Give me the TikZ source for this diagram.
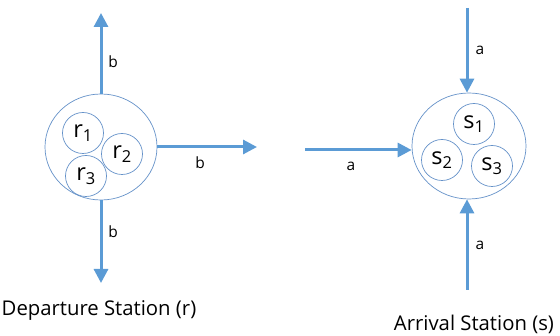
\documentclass[tikz,border=0pt]{standalone}
\usepackage{fontspec}
\setmainfont{Open Sans}
\usetikzlibrary{arrows.meta,shapes.geometric}
\definecolor{arrowblue}{RGB}{91,155,213}
\definecolor{ringblue}{RGB}{100,145,200}
\begin{document}
\begin{tikzpicture}[x=1pt,y=-1pt,
  bigring/.style={draw=ringblue,line width=0.7pt,ellipse,minimum height=106pt,inner sep=0pt},
  smallring/.style={draw=ringblue,line width=0.7pt,circle,minimum size=41pt,inner sep=0pt,font=\fontsize{23.5}{23.5}\selectfont},
  flow/.style={draw=arrowblue,line width=3pt,-{Triangle[length=14pt,width=14pt]}},
  lbl/.style={font=\fontsize{15.5}{15.5}\selectfont},
  title/.style={font=\fontsize{20.3}{20.3}\selectfont}]
\useasboundingbox (0,0) rectangle (560,336);
\node[bigring,minimum width=112pt] (dep) at (101,147) {};
\node[smallring] (r1) at (83,133) {r\textsubscript{1}};
\node[smallring] (r2) at (122,154) {r\textsubscript{2}};
\node[smallring] (r3) at (86,176) {r\textsubscript{3}};
\node[bigring,minimum width=114pt] (arr) at (469,146) {};
\node[smallring] (s1) at (474,124) {s\textsubscript{1}};
\node[smallring] (s2) at (442,160) {s\textsubscript{2}};
\node[smallring] (s3) at (492,166) {s\textsubscript{3}};
\coordinate (depup) at (101,13);
\coordinate (depright) at (257,147);
\coordinate (depdown) at (101,283);
\coordinate (arrtop) at (467,8);
\coordinate (arrleft) at (305,150);
\coordinate (arrbottom) at (467,290);
\draw[flow] (dep.north) -- (depup);
\draw[flow] (dep.east) -- (depright);
\draw[flow] (dep.south) -- (depdown);
\draw[flow] (arrtop) -- (arr.north -| arrtop);
\draw[flow] (arrleft) -- (arrleft -| arr.west);
\draw[flow] (arrbottom) -- (arr.south -| arrbottom);
\node[lbl] (lb1) at (113,62) {b};
\node[lbl] (lb2) at (200,163) {b};
\node[lbl] (lb3) at (113,232) {b};
\node[lbl] (la1) at (480,50) {a};
\node[lbl] (la2) at (351,166) {a};
\node[lbl] (la3) at (480,245) {a};
\node[title] (tdep) at (99,310) {Departure Station (r)};
\node[title] (tarr) at (474,324) {Arrival Station (s)};
\end{tikzpicture}
\end{document}
